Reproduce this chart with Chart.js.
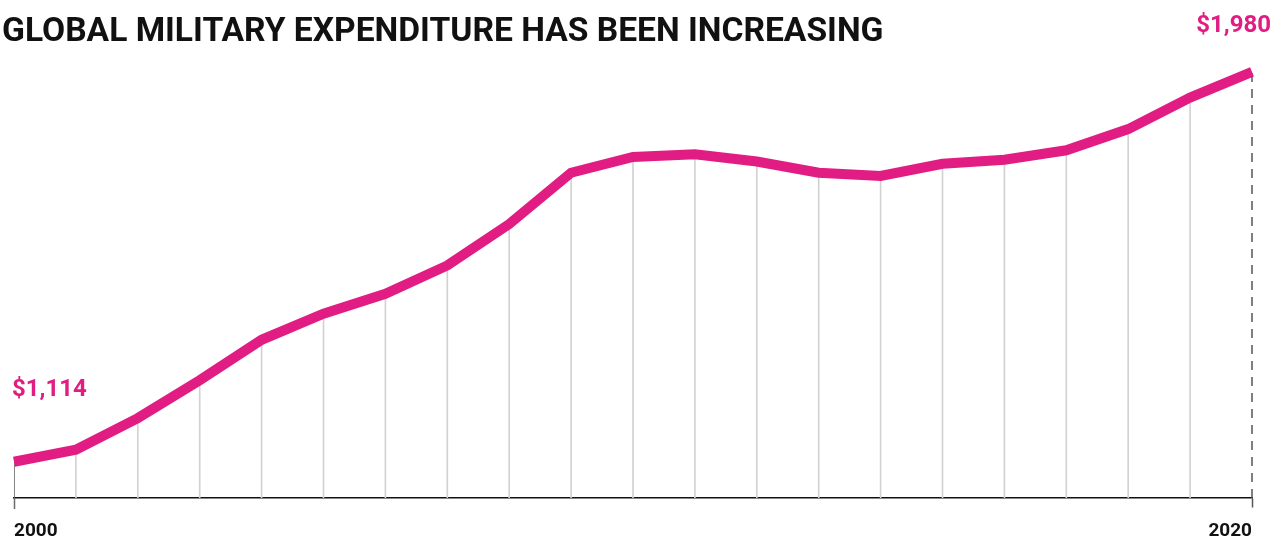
<!DOCTYPE html>
<html>
<head>
<meta charset="utf-8">
<script src="https://cdn.jsdelivr.net/npm/chart.js@4.4.1/dist/chart.umd.min.js"></script>
<style>
    html, body { margin: 0; padding: 0; background: #fff; }
    #wrap { width: 1282px; height: 538px; }
</style>
</head>
<body>
<div id="wrap"><canvas id="chart"></canvas></div>
<script>
// dados (bilhões de US$)
const years = [2000, 2001, 2002, 2003, 2004, 2005, 2006, 2007, 2008, 2009, 2010,
               2011, 2012, 2013, 2014, 2015, 2016, 2017, 2018, 2019, 2020];
const spending = [1114, 1141, 1211, 1295, 1385, 1443, 1487, 1550, 1642, 1756, 1791,
                  1797, 1781, 1756, 1749, 1776, 1785, 1806, 1853, 1923, 1980];
const xTickLabels = [2000, 2020];
const titleText = 'GLOBAL MILITARY EXPENDITURE HAS BEEN INCREASING';

const PINK = '#e11d84';
const Y_MIN = 1033.5;
const Y_MAX = 2008;

const money = v => '$' + v.toLocaleString('en-US');

// linhas verticais de cada ano até a base
const dropColors = years.map((y, i) => {
    if (i === 0) return '#6b6b6b';
    if (i === years.length - 1) return 'rgba(0,0,0,0)';
    return '#d2d2d2';
});

const lastYear = years[years.length - 1];
const lastValue = spending[spending.length - 1];

// rótulos de início e fim
const endLabels = {
    id: 'endLabels',
    afterDatasetsDraw(chart) {
        const { ctx, scales: { x, y } } = chart;
        ctx.save();
        ctx.fillStyle = PINK;
        ctx.font = '700 24px Roboto';
        ctx.textBaseline = 'alphabetic';
        ctx.textAlign = 'left';
        ctx.fillText(money(spending[0]), x.getPixelForValue(years[0]) - 2, y.getPixelForValue(spending[0]) - 66);
        ctx.textAlign = 'right';
        ctx.fillText(money(lastValue), x.getPixelForValue(lastYear) + 19, y.getPixelForValue(lastValue) - 40);
        ctx.restore();
    }
};

new Chart(document.getElementById('chart'), {
    data: {
        datasets: [
            {
                type: 'line',
                data: years.map((yr, i) => ({ x: yr, y: spending[i] })),
                borderColor: PINK,
                borderWidth: 10,
                borderCapStyle: 'butt',
                borderJoinStyle: 'miter',
                pointRadius: 0,
                tension: 0,
                clip: false,
                order: 0
            },
            {
                type: 'line',
                data: [{ x: lastYear, y: Y_MIN }, { x: lastYear, y: lastValue }],
                borderColor: '#555',
                borderWidth: 1.5,
                borderDash: [9, 7],
                pointRadius: 0,
                clip: false,
                order: 1
            },
            {
                type: 'bar',
                data: years.map((yr, i) => ({ x: yr, y: spending[i] })),
                backgroundColor: dropColors,
                barThickness: 1,
                order: 2
            }
        ]
    },
    options: {
        responsive: true,
        maintainAspectRatio: false,
        animation: false,
        layout: { padding: { left: 2, right: 30, top: 0, bottom: 0 } },
        plugins: {
            legend: { display: false },
            tooltip: { enabled: false },
            title: {
                display: true,
                text: titleText,
                align: 'start',
                color: '#111',
                font: { family: 'Roboto', size: 33.6, weight: '700' },
                padding: { top: 12, bottom: 7 }
            }
        },
        scales: {
            x: {
                type: 'linear',
                min: years[0],
                max: lastYear,
                offset: false,
                afterBuildTicks: s => { s.ticks = xTickLabels.map(v => ({ value: v })); },
                afterFit: s => { s.height = 40; },
                ticks: {
                    align: 'inner',
                    maxRotation: 0,
                    padding: 11,
                    color: '#111',
                    font: { family: 'Roboto', size: 19, weight: '700' },
                    callback: v => String(v)
                },
                grid: {
                    offset: false,
                    drawOnChartArea: false,
                    drawTicks: true,
                    tickLength: 11,
                    tickColor: ctx => ctx.tick && ctx.tick.value === lastYear ? '#555' : '#6b6b6b',
                    tickWidth: 1.5,
                    tickBorderDash: ctx => ctx.tick && ctx.tick.value === lastYear ? [9, 7] : []
                },
                border: { display: true, color: '#111', width: 1.5 }
            },
            y: {
                min: Y_MIN,
                max: Y_MAX,
                afterFit: s => { s.width = 12; },
                ticks: { display: false },
                grid: { display: false },
                border: { display: false }
            }
        }
    },
    plugins: [endLabels]
});
</script>
</body>
</html>
